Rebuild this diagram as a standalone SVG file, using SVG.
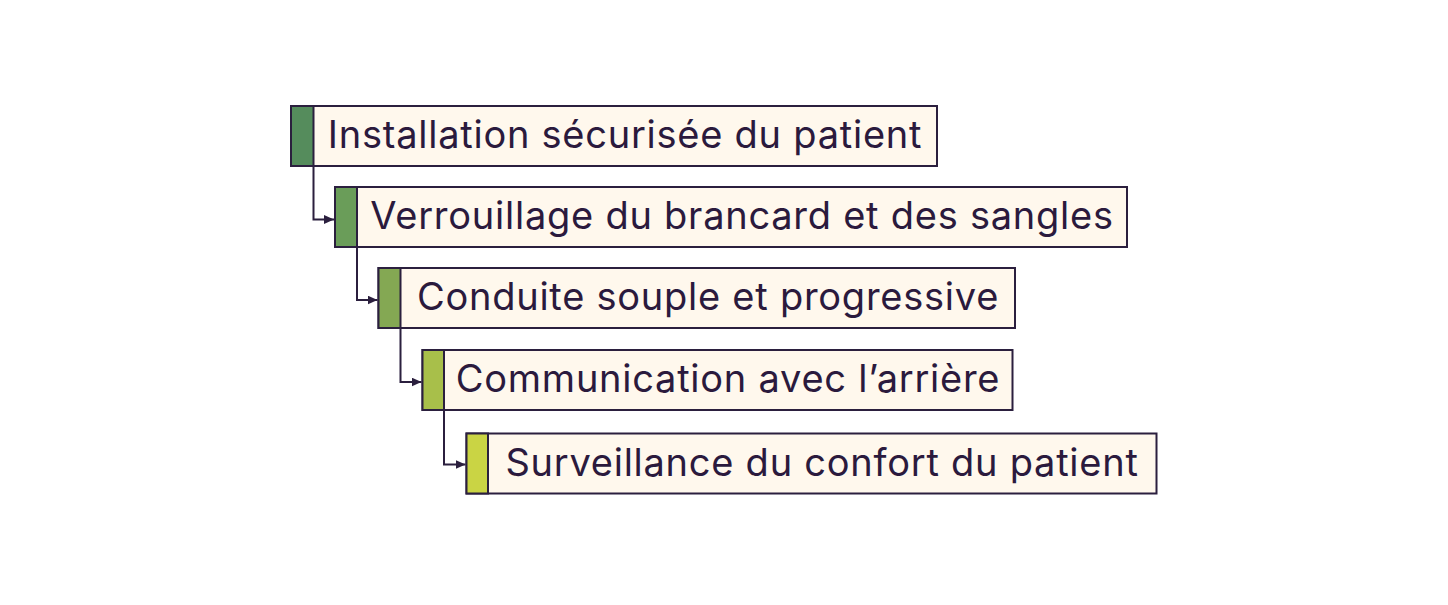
<svg xmlns="http://www.w3.org/2000/svg" width="1448" height="605" viewBox="0 0 1448 605">
<defs>
<style>
.box{fill:#fff8ed;stroke:#2b1f3e;stroke-width:2}
.bar{stroke:#2b1f3e;stroke-width:2}
.lbl{font-family:Inter,"Noto Sans",sans-serif;font-size:38px;letter-spacing:0.75px;fill:#2b1a3d;text-anchor:middle}
.con{fill:none;stroke:#2b1f3e;stroke-width:2}
</style>
<marker id="arr" viewBox="0 0 10 10" refX="10" refY="5" markerWidth="10" markerHeight="9" markerUnits="userSpaceOnUse" orient="auto" preserveAspectRatio="none">
<path d="M0,0 L10,5 L0,10 Z" fill="#2b1f3e"/>
</marker>
</defs>
<rect width="1448" height="605" fill="#ffffff"/>
<g id="connectors">
<path class="con" d="M313.5,166 V219.5 H334" marker-end="url(#arr)"/>
<path class="con" d="M357,247 V300 H377.5" marker-end="url(#arr)"/>
<path class="con" d="M400.5,328 V382 H421.5" marker-end="url(#arr)"/>
<path class="con" d="M444,410 V464.5 H465.5" marker-end="url(#arr)"/>
</g>
<g id="node1">
<rect class="box" x="291" y="106" width="646" height="60"/>
<rect class="bar" x="291" y="106" width="22.5" height="60" fill="#558c5c"/>
<text class="lbl" x="625" y="148">Installation sécurisée du patient</text>
</g>
<g id="node2">
<rect class="box" x="335" y="187" width="792" height="60"/>
<rect class="bar" x="335" y="187" width="22" height="60" fill="#6a9d59"/>
<text class="lbl" x="742" y="229">Verrouillage du brancard et des sangles</text>
</g>
<g id="node3">
<rect class="box" x="378.5" y="268" width="636.5" height="60"/>
<rect class="bar" x="378.5" y="268" width="22" height="60" fill="#84a853"/>
<text class="lbl" x="708" y="310">Conduite souple et progressive</text>
</g>
<g id="node4">
<rect class="box" x="422.5" y="350" width="590" height="60"/>
<rect class="bar" x="422.5" y="350" width="21.5" height="60" fill="#a8bf4a"/>
<text class="lbl" x="728" y="392">Communication avec l’arrière</text>
</g>
<g id="node5">
<rect class="box" x="466.5" y="433.5" width="690" height="60"/>
<rect class="bar" x="466.5" y="433.5" width="21.5" height="60" fill="#cad444"/>
<text class="lbl" x="822" y="475.5">Surveillance du confort du patient</text>
</g>
</svg>
